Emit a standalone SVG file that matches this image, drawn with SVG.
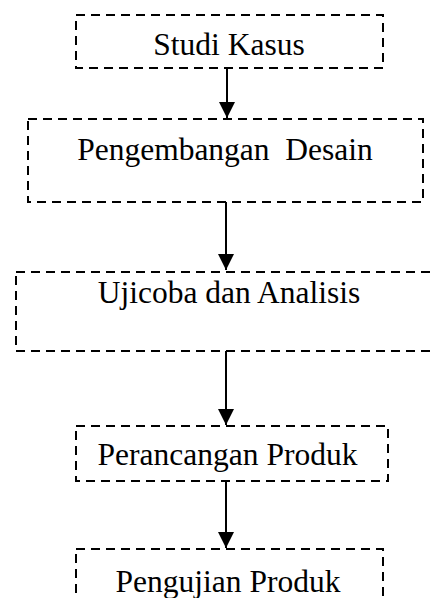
<svg xmlns="http://www.w3.org/2000/svg" width="435" height="598" viewBox="0 0 435 598">
<style>
.box{fill:none;stroke:#000;stroke-width:2;stroke-dasharray:9 6}
.lbl{font-family:"Liberation Serif","Times New Roman",serif;font-size:31.5px;fill:#000;text-anchor:middle}
.con{stroke:#000;stroke-width:2;fill:none}
</style>
<defs>
<marker id="ah" markerUnits="userSpaceOnUse" markerWidth="16" markerHeight="17" refX="16" refY="8" orient="auto">
<path d="M0,0 L16,8 L0,16 Z" fill="#000"/>
</marker>
</defs>
<rect width="435" height="598" fill="#fff"/>
<g id="n1"><rect class="box" x="76" y="15" width="307" height="53"/><text class="lbl" x="229" y="55">Studi Kasus</text></g>
<g id="n2"><rect class="box" x="28" y="119" width="395" height="83"/><text class="lbl" x="225" y="160" xml:space="preserve">Pengembangan  Desain</text></g>
<g id="n3"><rect class="box" x="16" y="272" width="430" height="79"/><text class="lbl" x="229" y="303">Ujicoba dan Analisis</text></g>
<g id="n4"><rect class="box" x="76" y="426" width="312" height="55"/><text class="lbl" x="227.5" y="465">Perancangan Produk</text></g>
<g id="n5"><rect class="box" x="76" y="549" width="307" height="60"/><text class="lbl" x="228" y="592">Pengujian Produk</text></g>
<g id="connectors">
<line class="con" x1="227" y1="68" x2="227" y2="118" marker-end="url(#ah)"/>
<line class="con" x1="226" y1="202" x2="226" y2="270" marker-end="url(#ah)"/>
<line class="con" x1="226" y1="351" x2="226" y2="425" marker-end="url(#ah)"/>
<line class="con" x1="226" y1="481" x2="226" y2="548" marker-end="url(#ah)"/>
</g>
</svg>
